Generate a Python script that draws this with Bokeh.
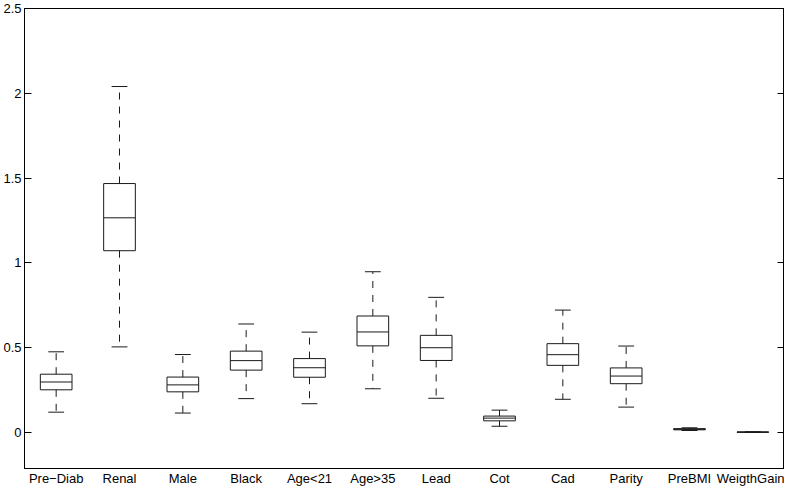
from bokeh.plotting import figure
from bokeh.models import Range1d, FixedTicker, LinearAxis
from bokeh.embed import file_html
from bokeh.resources import INLINE

categories = ["Pre−Diab", "Renal", "Male", "Black", "Age<21", "Age>35",
              "Lead", "Cot", "Cad", "Parity", "PreBMI", "WeigthGain"]
lower_whisker = [0.120, 0.505, 0.115, 0.200, 0.170, 0.258, 0.202, 0.037, 0.196, 0.150, 0.012, 0.0005]
q1            = [0.252, 1.072, 0.240, 0.368, 0.326, 0.511, 0.425, 0.069, 0.396, 0.288, 0.016, 0.0015]
median        = [0.298, 1.266, 0.281, 0.424, 0.382, 0.593, 0.500, 0.085, 0.459, 0.333, 0.019, 0.0025]
q3            = [0.344, 1.468, 0.327, 0.480, 0.436, 0.687, 0.573, 0.097, 0.524, 0.381, 0.023, 0.0035]
upper_whisker = [0.476, 2.040, 0.460, 0.640, 0.592, 0.948, 0.797, 0.132, 0.722, 0.510, 0.028, 0.0045]
y_ticks = [0, 0.5, 1, 1.5, 2, 2.5]

xs = list(range(1, len(categories) + 1))
box_half = 0.25
cap_half = 0.125
col = "#1a1a1a"

p = figure(width=784, height=488, output_backend="svg", toolbar_location=None,
           x_range=Range1d(0.5, len(categories) + 0.5), y_range=Range1d(-0.212, 2.5),
           min_border_left=4, min_border_right=0, min_border_top=8, min_border_bottom=2)
p.xgrid.visible = False
p.ygrid.visible = False
p.outline_line_color = "black"
p.outline_line_width = 1
p.background_fill_color = "white"
p.border_fill_color = "white"

# x axis
p.xaxis.ticker = FixedTicker(ticks=xs)
p.xaxis.major_label_overrides = {x: c for x, c in zip(xs, categories)}
p.xaxis.major_tick_in = 0
p.xaxis.major_tick_out = 0
p.xaxis.minor_tick_line_color = None
p.xaxis.axis_line_color = "black"
p.xaxis.major_label_standoff = 2
# y axis
p.yaxis.ticker = FixedTicker(ticks=y_ticks)
p.yaxis.major_label_overrides = {0: "0", 0.5: "0.5", 1: "1", 1.5: "1.5", 2: "2", 2.5: "2.5"}
p.yaxis.major_tick_in = 7
p.yaxis.major_tick_out = 0
p.yaxis.minor_tick_line_color = None
p.yaxis.axis_line_color = "black"
p.yaxis.major_label_standoff = 3
for ax in (p.xaxis, p.yaxis):
    ax.major_label_text_font = "Liberation Sans"
    ax.major_label_text_font_size = "13px"
    ax.major_label_text_color = "black"

ra = LinearAxis(ticker=FixedTicker(ticks=y_ticks), major_tick_in=7, major_tick_out=0,
                minor_tick_line_color=None, major_label_overrides={t: "" for t in y_ticks},
                major_label_standoff=0, axis_line_color="black")
p.add_layout(ra, "right")

# whiskers
p.segment(x0=xs, y0=q3, x1=xs, y1=upper_whisker, line_color=col, line_width=1, line_dash="7 7")
p.segment(x0=xs, y0=q1, x1=xs, y1=lower_whisker, line_color=col, line_width=1, line_dash="7 7")
# caps
p.segment(x0=[x - cap_half for x in xs], y0=upper_whisker, x1=[x + cap_half for x in xs], y1=upper_whisker,
          line_color=col, line_width=1)
p.segment(x0=[x - cap_half for x in xs], y0=lower_whisker, x1=[x + cap_half for x in xs], y1=lower_whisker,
          line_color=col, line_width=1)
# boxes
p.quad(left=[x - box_half for x in xs], right=[x + box_half for x in xs], bottom=q1, top=q3,
       fill_color=None, line_color=col, line_width=1)
# medians
p.segment(x0=[x - box_half for x in xs], y0=median, x1=[x + box_half for x in xs], y1=median,
          line_color=col, line_width=1)

open("out.html", "w").write(file_html(p, INLINE))
